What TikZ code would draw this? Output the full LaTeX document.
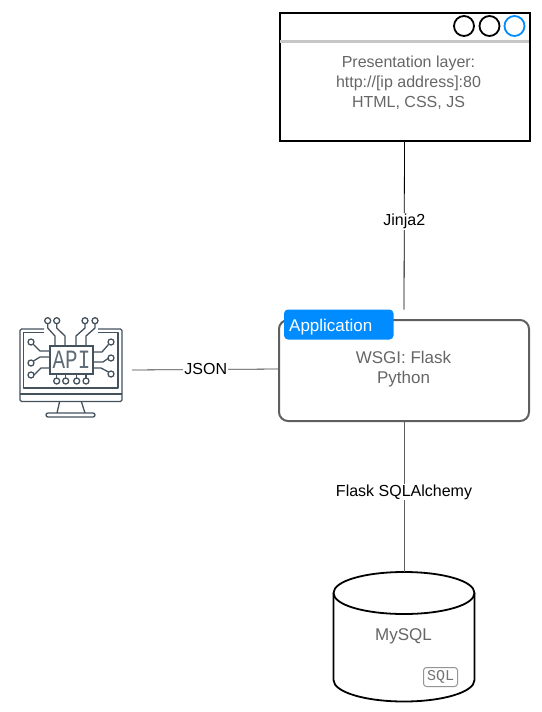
\documentclass[tikz,border=0pt]{standalone}
\usepackage{fontspec}
\setmainfont{Liberation Sans}
\newfontfamily\monofont{Liberation Mono}
\definecolor{textGray}{HTML}{666666}
\definecolor{lineGray}{HTML}{5F5F5F}
\definecolor{tabBlue}{HTML}{008CFF}
\definecolor{iconSlate}{HTML}{44525E}
\tikzset{
    bodyText/.style={text=textGray, align=center, inner sep=0pt, font=\fontsize{16}{20}\selectfont},
    largeText/.style={bodyText, font=\fontsize{17}{20}\selectfont},
    edgeLabel/.style={fill=white, text=black, inner sep=1pt, font=\fontsize{16}{18}\selectfont},
    windowDot/.style={circle, draw, line width=1.8pt, minimum size=20, inner sep=0pt},
    iconLine/.style={draw=iconSlate, line width=1.3pt, line join=round},
    iconPin/.style={circle, draw=iconSlate, line width=1.3pt, minimum size=6, inner sep=0pt},
    link/.style={line width=0.8pt},
}
\begin{document}
\begin{tikzpicture}[x=1pt,y=-1pt]
        \useasboundingbox (0,0) rectangle (541,712);

        % --- Draw presentation window ---
        \node[draw, line width=2pt, minimum width=250, minimum height=128] (windowBox) at (404.5,76.5) {};
        \coordinate (windowBarL) at (280,41.5);
        \coordinate (windowBarR) at (529,41.5);
        \draw[line width=2.4pt, color=black!22] (windowBarL) -- (windowBarR);
        \node[windowDot] (dotA) at (464,26) {};
        \node[windowDot] (dotB) at (489.5,26) {};
        \node[windowDot, draw=tabBlue] (dotC) at (514.5,26) {};
        \node[bodyText] (windowText) at (408.5,83) {Presentation layer:\\http://[ip address]:80\\HTML, CSS, JS};
        % ---

        % --- Draw application box ---
        \node[draw=lineGray, line width=2pt, rounded corners=9, minimum width=250, minimum height=101] (appBox) at (404,370.5) {};
        \draw[fill=tabBlue, draw=none, rounded corners=4] (284,309.5) rectangle (393.5,339.5);
        \node[anchor=west, text=white, inner sep=0pt, font=\fontsize{17}{19}\selectfont] (appTab) at (289,327) {Application};
        \node[largeText] (appText) at (403.5,369) {WSGI: Flask\\Python};
        \coordinate (appTop) at (404,309.5);
        \coordinate (appLeft) at (278,369);
        % ---

        % --- Draw database ---
        \coordinate (dbTop) at (404,572);
        \draw[line width=1.8pt, fill=white] (333.5,593) .. controls (333.5,581) and (365,572) .. (dbTop) .. controls (443,572) and (474.5,581) .. (474.5,593) -- (474.5,680) .. controls (474.5,692) and (443,701.5) .. (404,701.5) .. controls (365,701.5) and (333.5,692) .. (333.5,680) -- cycle;
        \draw[line width=1.8pt] (333.5,593) .. controls (333.5,605) and (365,614) .. (404,614) .. controls (443,614) and (474.5,605) .. (474.5,593);
        \node[largeText] (dbText) at (403.5,636.5) {MySQL};
        \node[draw=black!42, text=black!55, line width=1pt, rounded corners=3, inner sep=0pt, minimum width=34, minimum height=19, font=\monofont\fontsize{15}{15}\selectfont] (sqlBadge) at (440.5,677) {SQL};
        % ---

        % --- Draw API icon ---
        \draw[iconLine, rounded corners=1.5] (44,329) -- (20,329) -- (20,401.5) -- (122,401.5) -- (122,329) -- (98,329);
        \draw[iconLine] (44,332.5) -- (23.5,332.5) -- (23.5,388) -- (118,388) -- (118,332.5) -- (98,332.5);
        \draw[iconLine] (20,394) -- (122,394);
        \draw[iconLine] (59.5,402) -- (57,413) (81.5,402) -- (85,413);
        \draw[iconLine, rounded corners=2] (46,413) rectangle (95,417);
        \node[draw=iconSlate, line width=1.3pt, minimum width=43, minimum height=28, inner sep=0pt, text=iconSlate!85, font=\monofont\fontsize{22}{22}\selectfont] (apiChip) at (71.5,360) {\raisebox{-1pt}{\scalebox{0.95}[1.2]{API}}};
        % pins on top of the chip
        \foreach \pinX/\bendX in {47.7/55, 56.7/65, 85/76, 95/86} {
            \node[iconPin] at (\pinX,320.7) {};
            \draw[iconLine] (\pinX,323.7) -- (\pinX,328) -- (\bendX,336) -- (\bendX,346);
        }
        % pins below the chip
        \foreach \pinX in {56.7, 65.7, 76.7, 86} {
            \node[iconPin] at (\pinX,381) {};
            \draw[iconLine] (\pinX,374) -- (\pinX,378);
        }
        % pins left and right of the chip
        \foreach \pinX/\pinY/\startX/\startY/\bendX/\endY/\endX in {
            31/342/33.5/344.5/40/351/50,
            31/363/33.5/361/40/357/50,
            31/375/34/375/41/368/50,
            111/342/108.5/344.5/102/352/93,
            111/358/108/358.5/103/362/93,
            111/374/108.5/372/101/368/93} {
            \node[iconPin] at (\pinX,\pinY) {};
            \draw[iconLine] (\startX,\startY) -- (\bendX,\endY) -- (\endX,\endY);
        }
        \coordinate (apiEnd) at (132,370);
        % ---

        % --- Draw connectors and their labels ---
        \draw[link] (windowBox.south) -- (appTop) node[edgeLabel, pos=0.465, yshift=-1.5] (jinjaLabel) {Jinja2};
        \draw[link, color=black!75] (apiEnd) -- (appLeft) node[edgeLabel, pos=0.505, yshift=1] (jsonLabel) {JSON};
        \draw[link, color=lineGray] (appBox.south) -- (dbTop) node[edgeLabel, pos=0.46, yshift=-1] (ormLabel) {Flask SQLAlchemy};
        % ---
    \end{tikzpicture}
\end{document}
